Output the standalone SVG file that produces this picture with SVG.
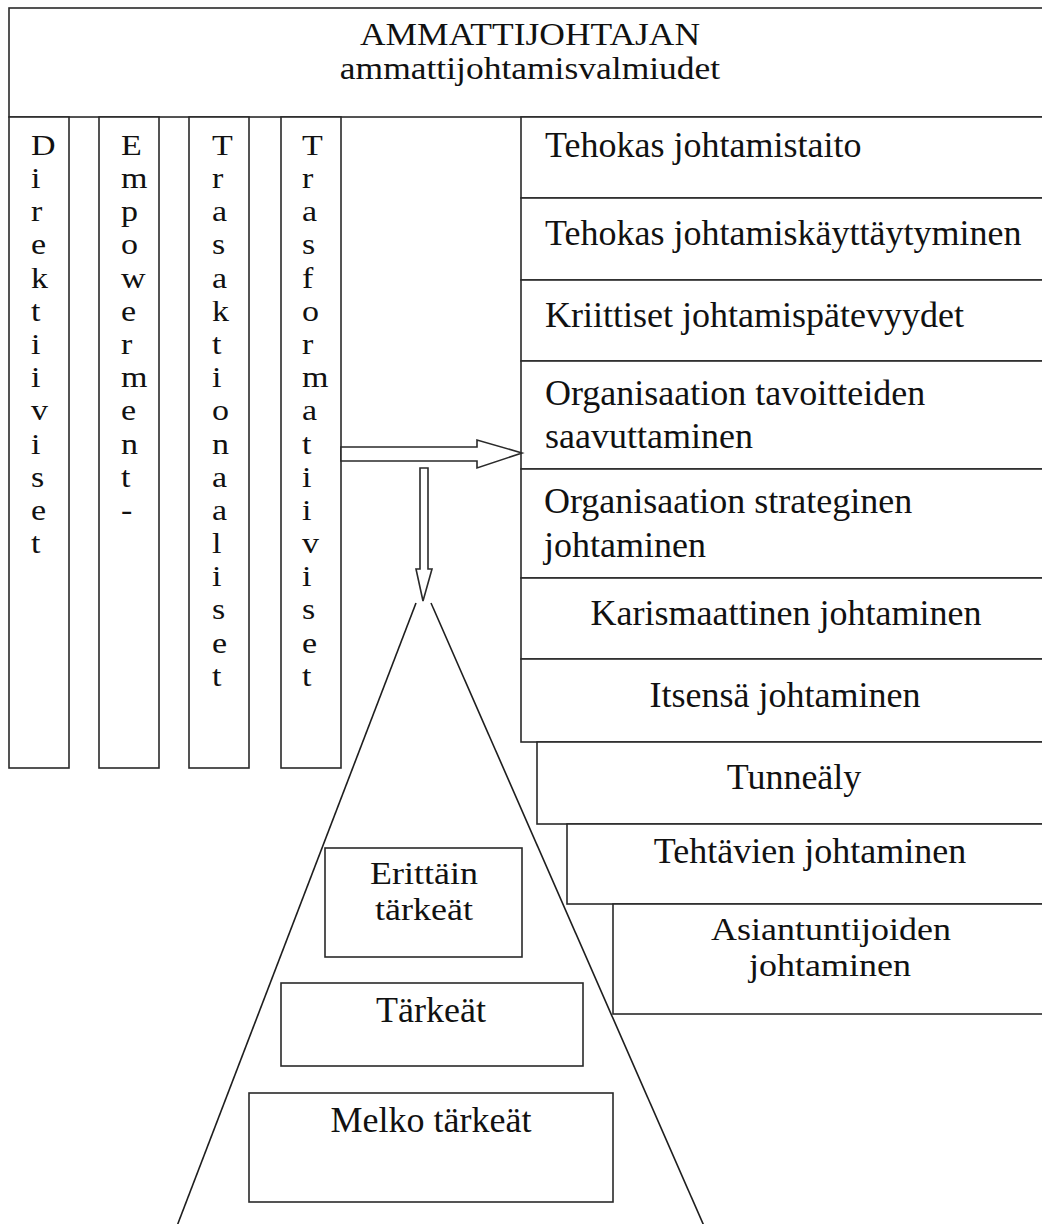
<svg xmlns="http://www.w3.org/2000/svg" width="1042" height="1224" viewBox="0 0 1042 1224">
  <style>
    .box { fill: #ffffff; stroke: #2a2a2a; stroke-width: 1.6; }
    .line { fill: none; stroke: #1e1e1e; stroke-width: 1.6; }
    .arrow { fill: #ffffff; stroke: #2a2a2a; stroke-width: 1.6; stroke-linejoin: miter; }
    .t { font-family: "Liberation Serif", "Times New Roman", "DejaVu Serif", serif; font-size: 36px; fill: #111111; }
    .hd { font-size: 35.5px; }
    .col { font-family: "Liberation Serif", "Times New Roman", "DejaVu Serif", serif; font-size: 34px; fill: #111111; }
    .mid { text-anchor: middle; }
  </style>
  <rect width="1042" height="1224" fill="#ffffff"/>

  <!-- title header -->
  <g id="header">
    <rect class="box" x="9" y="8" width="1050" height="109"/>
    <text class="t hd mid" transform="translate(530,45) scale(1,0.86)"><tspan x="0" y="0">AMMATTIJOHTAJAN</tspan><tspan x="0" y="39.5">ammattijohtamisvalmiudet</tspan></text>
  </g>

  <!-- vertical style columns, one letter per line -->
  <g id="col-direktiiviset">
    <rect class="box" x="9" y="117" width="60" height="651"/>
    <text class="col" transform="translate(31,155) scale(1,0.875)"><tspan x="0" y="0">D</tspan><tspan x="0" y="37.91">i</tspan><tspan x="0" y="75.82">r</tspan><tspan x="0" y="113.73">e</tspan><tspan x="0" y="151.64">k</tspan><tspan x="0" y="189.55">t</tspan><tspan x="0" y="227.46">i</tspan><tspan x="0" y="265.37">i</tspan><tspan x="0" y="303.28">v</tspan><tspan x="0" y="341.19">i</tspan><tspan x="0" y="379.1">s</tspan><tspan x="0" y="417.01">e</tspan><tspan x="0" y="454.92">t</tspan></text>
  </g>
  <g id="col-empowerment">
    <rect class="box" x="99" y="117" width="60" height="651"/>
    <text class="col" transform="translate(121,155) scale(1,0.875)"><tspan x="0" y="0">E</tspan><tspan x="0" y="37.91">m</tspan><tspan x="0" y="75.82">p</tspan><tspan x="0" y="113.73">o</tspan><tspan x="0" y="151.64">w</tspan><tspan x="0" y="189.55">e</tspan><tspan x="0" y="227.46">r</tspan><tspan x="0" y="265.37">m</tspan><tspan x="0" y="303.28">e</tspan><tspan x="0" y="341.19">n</tspan><tspan x="0" y="379.1">t</tspan><tspan x="0" y="417.01">-</tspan></text>
  </g>
  <g id="col-trasaktionaaliset">
    <rect class="box" x="189" y="117" width="60" height="651"/>
    <text class="col" transform="translate(212,155) scale(1,0.875)"><tspan x="0" y="0">T</tspan><tspan x="0" y="37.91">r</tspan><tspan x="0" y="75.82">a</tspan><tspan x="0" y="113.73">s</tspan><tspan x="0" y="151.64">a</tspan><tspan x="0" y="189.55">k</tspan><tspan x="0" y="227.46">t</tspan><tspan x="0" y="265.37">i</tspan><tspan x="0" y="303.28">o</tspan><tspan x="0" y="341.19">n</tspan><tspan x="0" y="379.1">a</tspan><tspan x="0" y="417.01">a</tspan><tspan x="0" y="454.92">l</tspan><tspan x="0" y="492.83">i</tspan><tspan x="0" y="530.74">s</tspan><tspan x="0" y="568.65">e</tspan><tspan x="0" y="606.56">t</tspan></text>
  </g>
  <g id="col-trasformatiiviset">
    <rect class="box" x="281" y="117" width="60" height="651"/>
    <text class="col" transform="translate(302,155) scale(1,0.875)"><tspan x="0" y="0">T</tspan><tspan x="0" y="37.91">r</tspan><tspan x="0" y="75.82">a</tspan><tspan x="0" y="113.73">s</tspan><tspan x="0" y="151.64">f</tspan><tspan x="0" y="189.55">o</tspan><tspan x="0" y="227.46">r</tspan><tspan x="0" y="265.37">m</tspan><tspan x="0" y="303.28">a</tspan><tspan x="0" y="341.19">t</tspan><tspan x="0" y="379.1">i</tspan><tspan x="0" y="417.01">i</tspan><tspan x="0" y="454.92">v</tspan><tspan x="0" y="492.83">i</tspan><tspan x="0" y="530.74">s</tspan><tspan x="0" y="568.65">e</tspan><tspan x="0" y="606.56">t</tspan></text>
  </g>

  <!-- stacked competence boxes (open to the right edge) -->
  <g id="tehokas-johtamistaito">
    <rect class="box" x="521" y="117" width="540" height="81"/>
    <text class="t" x="545" y="157">Tehokas johtamistaito</text>
  </g>
  <g id="tehokas-johtamiskayttaytyminen">
    <rect class="box" x="521" y="198" width="540" height="82"/>
    <text class="t" x="545" y="245">Tehokas johtamiskäyttäytyminen</text>
  </g>
  <g id="kriittiset-johtamispatevyydet">
    <rect class="box" x="521" y="280" width="540" height="81"/>
    <text class="t" x="545" y="327">Kriittiset johtamispätevyydet</text>
  </g>
  <g id="tavoitteiden-saavuttaminen">
    <rect class="box" x="521" y="361" width="540" height="108"/>
    <text class="t" x="545" y="405">Organisaation tavoitteiden</text>
    <text class="t" x="545" y="448">saavuttaminen</text>
  </g>
  <g id="strateginen-johtaminen">
    <rect class="box" x="521" y="469" width="540" height="109"/>
    <text class="t" x="544" y="513">Organisaation strateginen</text>
    <text class="t" x="544" y="557">johtaminen</text>
  </g>
  <g id="karismaattinen-johtaminen">
    <rect class="box" x="521" y="578" width="540" height="81"/>
    <text class="t mid" x="786" y="625">Karismaattinen johtaminen</text>
  </g>
  <g id="itsensa-johtaminen">
    <rect class="box" x="521" y="659" width="540" height="83"/>
    <text class="t mid" x="785" y="707">Itsensä johtaminen</text>
  </g>
  <g id="tunnealy">
    <rect class="box" x="537" y="742" width="524" height="82"/>
    <text class="t mid" x="794" y="789">Tunneäly</text>
  </g>
  <g id="tehtavien-johtaminen">
    <rect class="box" x="567" y="824" width="494" height="80"/>
    <text class="t mid" x="810" y="863">Tehtävien johtaminen</text>
  </g>
  <g id="asiantuntijoiden-johtaminen">
    <rect class="box" x="613" y="904" width="448" height="110"/>
    <text class="t mid" transform="translate(831,940) scale(1,0.9)"><tspan x="0" y="0">Asiantuntijoiden</tspan><tspan x="-1" y="40">johtaminen</tspan></text>
  </g>

  <!-- importance pyramid -->
  <g id="pyramid">
    <line class="line" x1="416" y1="603" x2="177" y2="1226"/>
    <line class="line" x1="431" y1="603" x2="704" y2="1226"/>
  </g>
  <g id="erittain-tarkeat">
    <rect class="box" x="325" y="848" width="197" height="109"/>
    <text class="t mid" transform="translate(424,884) scale(1,0.9)"><tspan x="0" y="0">Erittäin</tspan><tspan x="0" y="40">tärkeät</tspan></text>
  </g>
  <g id="tarkeat">
    <rect class="box" x="281" y="983" width="302" height="83"/>
    <text class="t mid" x="431" y="1022">Tärkeät</text>
  </g>
  <g id="melko-tarkeat">
    <rect class="box" x="249" y="1093" width="364" height="109"/>
    <text class="t mid" x="431" y="1132">Melko tärkeät</text>
  </g>

  <!-- block arrows -->
  <g id="connectors">
    <polygon class="arrow" points="341,447 477,447 477,440 522,453 477,468 477,461 341,461"/>
    <polygon class="arrow" points="420,468 428,468 428,569 432,569 423,601 416,569 420,569"/>
  </g>
</svg>
